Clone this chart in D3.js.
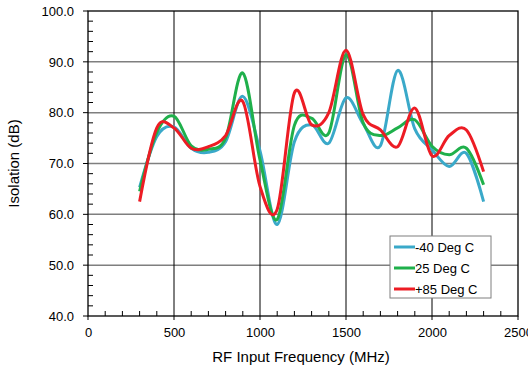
<!DOCTYPE html>
<html>
<head>
<meta charset="utf-8">
<script src="https://cdn.jsdelivr.net/npm/d3@7"></script>
<style>
  body { margin: 0; background: #fff; }
  svg text { font-family: "Liberation Sans", Arial, sans-serif; fill: #000; }
</style>
</head>
<body>
<svg id="chart"></svg>
<script>
// frequency points (MHz)
const freqs = [300, 400, 500, 600, 700, 800, 900, 1000, 1100, 1200, 1300,
               1400, 1500, 1600, 1700, 1800, 1900, 2000, 2100, 2200, 2300];

// isolation (dB) per temperature
const minus40 = [65.3, 75.3, 77.2, 73.0, 72.2, 74.3, 83.2, 72.5, 58.0, 74.3, 77.6,
                 74.0, 82.9, 77.8, 73.5, 88.3, 76.8, 72.7, 69.4, 72.0, 62.5];
const plus25  = [64.5, 76.1, 79.3, 73.5, 72.8, 75.0, 87.8, 70.7, 59.0, 77.5, 78.9,
                 76.0, 91.4, 78.0, 75.5, 77.0, 78.6, 73.4, 71.7, 73.0, 65.8];
const plus85  = [62.5, 77.0, 77.0, 73.0, 73.3, 75.5, 82.2, 65.5, 61.0, 83.9, 77.6,
                 80.0, 92.3, 79.6, 76.6, 73.3, 80.9, 71.5, 75.5, 76.6, 68.4];

const seriesNames = ['-40 Deg C', '25 Deg C', '+85 Deg C'];
const xTicks = [0, 500, 1000, 1500, 2000, 2500];
const yTicks = [40, 50, 60, 70, 80, 90, 100];

const colors = ['#3aa9c9', '#1fb04b', '#ed1c24'];

const config = {
    width: 528,
    height: 367,
    margin: { top: 11, right: 10, bottom: 51, left: 88 }
};

const svg = d3.select('#chart')
    .attr('width', config.width)
    .attr('height', config.height);

const innerW = 430;
const innerH = config.height - config.margin.top - config.margin.bottom;

const chart = svg.append('g')
    .attr('transform', `translate(${config.margin.left}, ${config.margin.top})`);

const xscale = d3.scaleLinear().domain([0, 2500]).range([0, innerW]);
const yscale = d3.scaleLinear().domain([40, 100]).range([innerH, 0]);

// grid
chart.append('g').selectAll('line')
    .data(yTicks.slice(1, -1))
    .join('line')
    .attr('x1', 0).attr('x2', innerW)
    .attr('y1', d => yscale(d)).attr('y2', d => yscale(d))
    .attr('stroke', '#7f7f7f').attr('stroke-width', 1.5);

chart.append('g').selectAll('line')
    .data(xTicks.slice(1, -1))
    .join('line')
    .attr('y1', 0).attr('y2', innerH)
    .attr('x1', d => xscale(d)).attr('x2', d => xscale(d))
    .attr('stroke', '#000').attr('stroke-width', 1);

// major ticks (outside)
chart.append('g').selectAll('line')
    .data(yTicks)
    .join('line')
    .attr('x1', -5).attr('x2', 0)
    .attr('y1', d => yscale(d)).attr('y2', d => yscale(d))
    .attr('stroke', '#000').attr('stroke-width', 1);

chart.append('g').selectAll('line')
    .data(xTicks)
    .join('line')
    .attr('y1', innerH).attr('y2', innerH + 4)
    .attr('x1', d => xscale(d)).attr('x2', d => xscale(d))
    .attr('stroke', '#000').attr('stroke-width', 1);

// minor ticks (inside)
chart.append('g').selectAll('line')
    .data(d3.range(42, 100, 2).filter(d => d % 10 !== 0))
    .join('line')
    .attr('x1', 0).attr('x2', 5)
    .attr('y1', d => yscale(d)).attr('y2', d => yscale(d))
    .attr('stroke', '#000').attr('stroke-width', 1);

chart.append('g').selectAll('line')
    .data(d3.range(100, 2500, 100).filter(d => d % 500 !== 0))
    .join('line')
    .attr('y1', innerH).attr('y2', innerH - 5)
    .attr('x1', d => xscale(d)).attr('x2', d => xscale(d))
    .attr('stroke', '#000').attr('stroke-width', 1);

// frame
chart.append('rect')
    .attr('width', innerW).attr('height', innerH)
    .attr('fill', 'none')
    .attr('stroke', '#000').attr('stroke-width', 1.3);

// axes labels
const yaxis = d3.axisLeft(yscale).tickValues(yTicks).tickSize(0).tickPadding(14)
    .tickFormat(d3.format('.1f'));
const xaxis = d3.axisBottom(xscale).tickValues(xTicks).tickSize(0).tickPadding(12)
    .tickFormat(d3.format('d'));

chart.append('g').call(yaxis)
    .call(g => g.select('.domain').remove())
    .selectAll('text').style('font-size', '13px');
chart.append('g').attr('transform', `translate(0, ${innerH})`).call(xaxis)
    .call(g => g.select('.domain').remove())
    .selectAll('text').style('font-size', '13px');

svg.append('text')
    .attr('transform', `translate(15, ${config.margin.top + innerH / 2}) rotate(-90)`)
    .attr('text-anchor', 'middle')
    .attr('dominant-baseline', 'middle')
    .style('font-size', '15px')
    .text('Isolation (dB)');

svg.append('text')
    .attr('x', 301)
    .attr('y', 362)
    .attr('text-anchor', 'middle')
    .style('font-size', '15px')
    .text('RF Input Frequency (MHz)');

// lines
const allSeries = [minus40, plus25, plus85];
const line = d3.line()
    .x((d, i) => xscale(freqs[i]))
    .y(d => yscale(d))
    .curve(d3.curveCardinal.tension(0));

chart.append('g').selectAll('path')
    .data(allSeries)
    .join('path')
    .attr('d', d => line(d))
    .attr('fill', 'none')
    .attr('stroke', (d, i) => colors[i])
    .attr('stroke-width', 3)
    .attr('stroke-linejoin', 'round');

// legend
const legend = svg.append('g').attr('transform', 'translate(390, 236)');
legend.append('rect')
    .attr('width', 101).attr('height', 62)
    .attr('fill', '#fff')
    .attr('stroke', '#7f7f7f').attr('stroke-width', 1);

const rows = legend.selectAll('g')
    .data(seriesNames)
    .join('g')
    .attr('transform', (d, i) => `translate(0, ${11 + i * 21})`);
rows.append('line')
    .attr('x1', 4).attr('x2', 25)
    .attr('stroke', (d, i) => colors[i])
    .attr('stroke-width', 3);
rows.append('text')
    .attr('x', 25)
    .attr('dy', '0.35em')
    .style('font-size', '13px')
    .text(d => d);
</script>
</body>
</html>
